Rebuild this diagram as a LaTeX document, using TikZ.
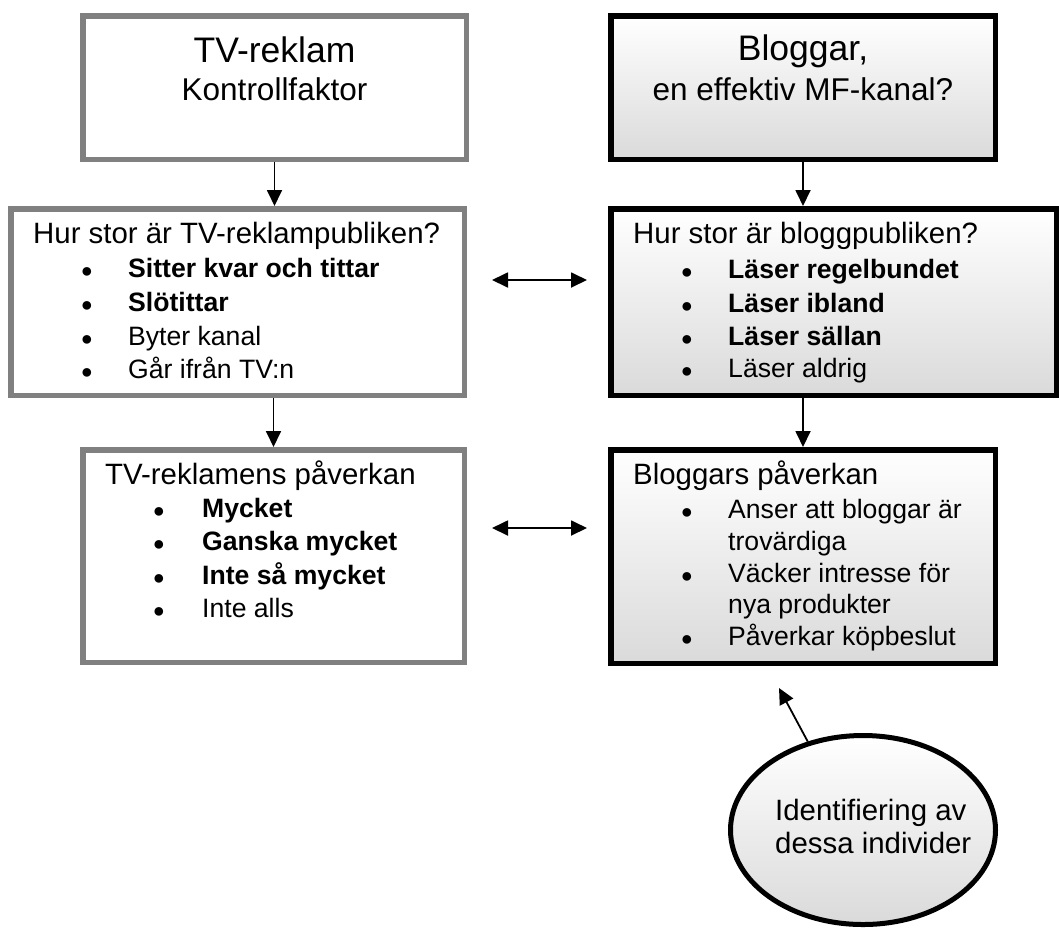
\documentclass[tikz,border=0pt]{standalone}
\usepackage{fontspec}
\setmainfont{Liberation Sans}
\usetikzlibrary{arrows.meta,shapes.geometric}
\definecolor{boxgray}{HTML}{808080}
\definecolor{fillgray}{HTML}{DADADA}
\tikzset{
  leftbox/.style={draw=boxgray, line width=5.5pt, fill=white, inner sep=0pt},
  rightbox/.style={draw=black, line width=5.5pt, top color=white, bottom color=fillgray, inner sep=0pt},
  arr/.style={line width=1.8pt, -{Triangle[length=16pt,width=15pt]}},
  darr/.style={line width=1.8pt, {Triangle[length=16pt,width=15pt]}-{Triangle[length=16pt,width=15pt]}},
  ttl/.style={anchor=base, inner sep=0pt, font=\fontsize{35.5}{40}\selectfont},
  sub/.style={anchor=base, inner sep=0pt, font=\fontsize{31.5}{36}\selectfont},
  head/.style={anchor=base west, inner sep=0pt, font=\fontsize{29.4}{33}\selectfont},
  item/.style={anchor=base west, inner sep=0pt, font=\fontsize{26.6}{30}\selectfont},
  bitem/.style={anchor=base west, inner sep=0pt, font=\fontsize{26.6}{30}\selectfont\bfseries},
  bul/.style={anchor=base, inner sep=0pt, font=\fontsize{20}{20}\selectfont},
}
\begin{document}
\begin{tikzpicture}[x=1pt,y=-1pt]
\useasboundingbox (0,0) rectangle (1059,927);
% boxes
\node[leftbox, minimum width=383.5pt, minimum height=143.5pt] (b1) at (274.5,87.5) {};
\node[rightbox, minimum width=384.5pt, minimum height=143.5pt] (b2) at (803,87.5) {};
\node[leftbox, minimum width=453.5pt, minimum height=186.5pt] (b3) at (237.5,302) {};
\node[rightbox, minimum width=445.5pt, minimum height=186.5pt] (b4) at (833.5,302) {};
\node[leftbox, minimum width=381.5pt, minimum height=212.5pt] (b5) at (273.5,556) {};
\node[rightbox, minimum width=384.5pt, minimum height=213.5pt] (b6) at (803,556.5) {};
\node[ellipse, draw=black, line width=5pt, top color=white, bottom color=fillgray, inner sep=0pt,
      minimum width=265pt, minimum height=189pt] (ell) at (863,830) {};

% box 1
\node[ttl] (t1a) at (274.5,62) {TV-reklam};
\node[sub] (t1b) at (274.5,100) {Kontrollfaktor};
% box 2
\node[ttl] (t2a) at (803,60) {Bloggar,};
\node[sub] (t2b) at (803,100) {en effektiv MF-kanal?};

% box 3
\node[head] (h3) at (33,243) {Hur stor är TV-reklampubliken?};
\node[bul] (u31) at (87,277) {●};
\node[bitem] (i31) at (128,277) {Sitter kvar och tittar};
\node[bul] (u32) at (87,311) {●};
\node[bitem] (i32) at (128,311) {Slötittar};
\node[bul] (u33) at (87,345) {●};
\node[item] (i33) at (128,345) {Byter kanal};
\node[bul] (u34) at (87,378) {●};
\node[item] (i34) at (128,378) {Går ifrån TV:n};

% box 4
\node[head] (h4) at (633,243) {Hur stor är bloggpubliken?};
\node[bul] (u41) at (687,278) {●};
\node[bitem] (i41) at (728,278) {Läser regelbundet};
\node[bul] (u42) at (687,312) {●};
\node[bitem] (i42) at (728,312) {Läser ibland};
\node[bul] (u43) at (687,345) {●};
\node[bitem] (i43) at (728,345) {Läser sällan};
\node[bul] (u44) at (687,377) {●};
\node[item] (i44) at (728,377) {Läser aldrig};

% box 5
\node[head] (h5) at (105,484) {TV-reklamens påverkan};
\node[bul] (u51) at (159,517) {●};
\node[bitem] (i51) at (202,517) {Mycket};
\node[bul] (u52) at (159,550) {●};
\node[bitem] (i52) at (202,550) {Ganska mycket};
\node[bul] (u53) at (159,584) {●};
\node[bitem] (i53) at (202,584) {Inte så mycket};
\node[bul] (u54) at (159,617) {●};
\node[item] (i54) at (202,617) {Inte alls};

% box 6
\node[head] (h6) at (633,484) {Bloggars påverkan};
\node[bul] (u61) at (687,518) {●};
\node[item] (i61) at (728,518) {Anser att bloggar är};
\node[item] (i61b) at (728,550) {trovärdiga};
\node[bul] (u62) at (687,582) {●};
\node[item] (i62) at (728,582) {Väcker intresse för};
\node[item] (i62b) at (728,613) {nya produkter};
\node[bul] (u63) at (687,645) {●};
\node[item] (i63) at (728,645) {Påverkar köpbeslut};

% ellipse text
\node[head] (e1) at (775,820) {Identifiering av};
\node[head] (e2) at (775,853) {dessa individer};

% connectors
\coordinate (d1a) at (492,280);
\coordinate (d1b) at (587,280);
\coordinate (d2a) at (492,528);
\coordinate (d2b) at (587,528);
\coordinate (etip) at (779,688);
\draw[arr] (b1.south) -- (b1.south |- b3.north);
\draw[arr] (b2.south) -- (b2.south |- b4.north);
\draw[arr] (b3.south -| b5.north) -- (b5.north);
\draw[arr] (b4.south -| b6.north) -- (b6.north);
\draw[darr] (d1a) -- (d1b);
\draw[darr] (d2a) -- (d2b);
\draw[arr] (ell.122) -- (etip);
\end{tikzpicture}
\end{document}
